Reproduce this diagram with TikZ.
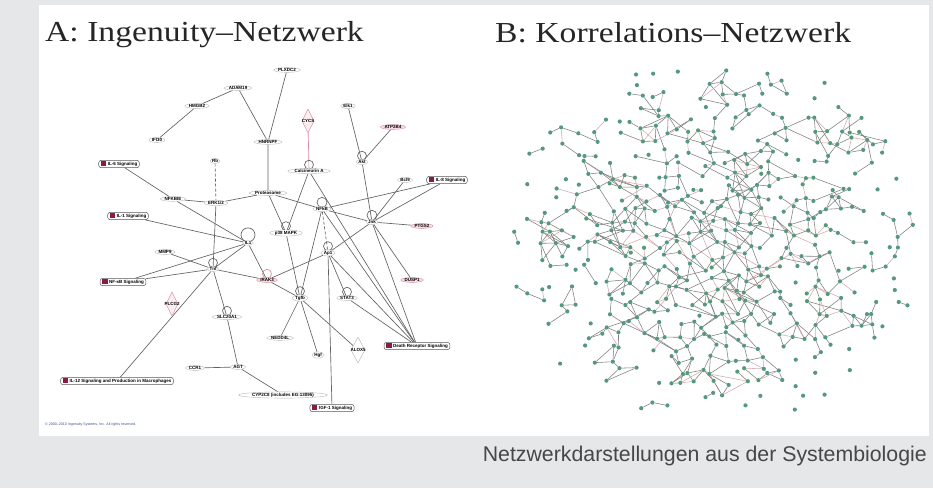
\documentclass[tikz,border=0pt]{standalone}
\usepackage{fontspec}
\setmainfont{Liberation Serif}
\newfontfamily\asans{Liberation Sans}
\usetikzlibrary{shapes.geometric}
\definecolor{bggray}{HTML}{E6E7E9}
\definecolor{pwred}{HTML}{8E1B3C}
\definecolor{pinkline}{HTML}{D98A9E}
\definecolor{pinkfill}{HTML}{F7DDE3}
\definecolor{dotgreen}{HTML}{55987D}
\definecolor{edgegray}{HTML}{7E7E7E}
\definecolor{edgepink}{HTML}{D4A8AF}
\definecolor{crblue}{HTML}{3A4FA0}
\pgfdeclarelayer{back}
\pgfdeclarelayer{edges}
\pgfsetlayers{back,edges,main}
\newcommand\pw[1]{{\color{pwred}\rule[-0.4pt]{5.5pt}{4.6pt}}\hspace{1.6pt}#1}
\newcommand\myloop[2]{\draw[aedge] ([yshift=#2*0.8]#1.north) circle (#2);}
\newcommand\bedge[3]{%
  \ifcsname bx#1x#2\endcsname
    \pgfmathtruncatemacro\bok{rnd<#3}%
    \ifnum\bok=1
      \pgfmathtruncatemacro\bpk{rnd<0.18}%
      \ifnum\bpk=1
        \draw[bline,draw=edgepink] (b\i x\j) -- (b#1x#2);
      \else
        \draw[bline] (b\i x\j) -- (b#1x#2);
      \fi
    \fi
  \fi}
\tikzset{
  lab/.style={font=\asans\bfseries\fontsize{4.5}{5}\selectfont},
  gnode/.style={lab, ellipse, draw=gray!55, fill=white, inner xsep=0.5pt, inner ysep=0.1pt},
  pnode/.style={lab, ellipse, draw=pinkline, fill=pinkfill, inner xsep=0.5pt, inner ysep=0.1pt},
  plab/.style={lab, inner sep=0.3pt},
  pdshape/.style={diamond, draw=pinkline, fill=pinkfill!50, minimum width=12pt, minimum height=24pt, inner sep=0pt},
  gdshape/.style={diamond, draw=gray!60, fill=white, minimum width=14pt, minimum height=26pt, inner sep=0pt},
  pbox/.style={lab, rectangle, rounded corners=2.5pt, draw=black!65, fill=white, inner xsep=2pt, inner ysep=1.1pt, line width=0.5pt},
  aedge/.style={draw=black!62, line width=0.65pt},
  bdot/.style={circle, fill=dotgreen, inner sep=0pt, minimum size=4.2pt},
  bline/.style={draw=edgegray, line width=0.55pt},
}
\begin{document}
\begin{tikzpicture}[x=1pt,y=-1pt]
\useasboundingbox (0,0) rectangle (933,488);
\begin{pgfonlayer}{back}
\fill[bggray] (0,0) rectangle (933,488);
\fill[white] (39,5) rectangle (929,436);
\end{pgfonlayer}

% titles and caption
\node[anchor=base west, inner sep=0pt, text=black!85] (ta) at (45,41) {\fontsize{29}{30}\selectfont\scalebox{1.16}[1]{A: Ingenuity–Netzwerk}};
\node[anchor=base west, inner sep=0pt, text=black!85] (tb) at (495,42) {\fontsize{29}{30}\selectfont\scalebox{1.16}[1]{B: Korrelations–Netzwerk}};
\node[anchor=base east, inner sep=0pt, text=black!72] (cap) at (927,461) {\asans\fontsize{21.3}{22}\selectfont Netzwerkdarstellungen aus der Systembiologie};

% ---------------- Network A ----------------
\node[gnode] (pld) at (287,70) {PLXDC2};
\node[gnode] (adi) at (238,88) {ADAM19};
\node[gnode] (hmg) at (197,106) {HMGB2};
\node[gnode] (ptr) at (157,140) {IFI30};
\node[gnode] (hnr) at (268,142) {HNRNPF};
\node[pdshape] (cycd) at (308,121) {};
\node[plab] (cyc) at (308,121) {CYCS};
\node[gnode] (elv) at (348,106) {Elk1};
\node[pnode] (htr) at (393,127) {ATP2B4};
\node[gnode] (akt) at (362,162) {Akt};
\node[gnode] (cal) at (309,171) {Calcineurin A};
\node[gnode] (rb) at (215,161) {Rb};
\node[pbox] (il6) at (119,164) {\pw{IL-6 Signaling}};
\node[pbox] (il8) at (447,180) {\pw{IL-8 Signaling}};
\node[gnode] (bcl) at (405,180) {Bcl9};
\node[gnode] (prot) at (268,193) {Proteasome};
\node[gnode] (nfi) at (173,199) {NFKBIE};
\node[gnode] (erk) at (216,203) {ERK1/2};
\node[gnode] (nfkb) at (322,209) {NFkB};
\node[gnode] (jnk) at (372,222) {Jnk};
\node[pnode] (ptg) at (422,226) {PTGS2};
\node[pbox] (il1) at (128,216) {\pw{IL-1 Signaling}};
\node[gnode] (p38) at (286,233) {p38 MAPK};
\node[gnode] (il1n) at (248,243) {IL1};
\node[gnode] (ap1) at (328,253) {Ap1};
\node[gnode] (mmp) at (165,252) {MMP9};
\node[gnode] (tnf) at (213,269) {Tnf};
\node[pbox] (nfk) at (123,282) {\pw{NF-κB Signaling}};
\node[pdshape] (plcd) at (172,304) {};
\node[plab] (plc) at (172,304) {PLCG2};
\node[pnode] (irk) at (267,280) {IRAK3};
\node[gnode] (tgf) at (300,298) {Tgfb};
\node[gnode] (sta) at (347,298) {STAT3};
\node[pnode] (dus) at (412,280) {DUSP1};
\node[gnode] (slc) at (227,317) {SLC20A1};
\node[gnode] (ned) at (280,338) {NEDD4L};
\node[gnode] (hgf) at (318,355) {Hgf};
\node[gdshape] (alxd) at (358,350) {};
\node[plab] (alx) at (358,350) {ALOX5};
\node[pbox] (dth) at (417,346) {\pw{Death Receptor Signaling}};
\node[gnode] (ccr) at (195,368) {CCR1};
\node[gnode] (agt) at (238,367) {AGT};
\node[pbox] (il12) at (117,381) {\pw{IL-12 Signaling and Production in Macrophages}};
\node[gnode] (cyp) at (283,395) {CYP2C8 (includes EG:13095)};
\node[pbox] (igf) at (332,408) {\pw{IGF-1 Signaling}};
\node[anchor=west, inner sep=0pt, text=crblue] (cr) at (45,425) {\asans\fontsize{3.6}{4}\selectfont © 2000–2010 Ingenuity Systems, Inc. All rights reserved.};

\begin{pgfonlayer}{edges}
\draw[aedge] (ptr) -- (hmg) -- (adi) -- (hnr);
\draw[aedge] (pld) -- (hnr) -- (prot);
\draw[aedge,draw=pinkline] (cycd) -- (cal);
\draw[aedge] (elv) -- (akt);
\draw[aedge] (htr) -- (akt);
\draw[aedge] (akt) -- (jnk);
\draw[aedge] (il6) -- (nfi) -- (il1n);
\draw[aedge] (nfi) -- (erk) -- (prot);
\draw[aedge,densely dashed] (rb) -- (erk);
\draw[aedge] (erk) -- (tnf);
\draw[aedge] (prot) -- (nfkb) -- (jnk);
\draw[aedge] (prot) -- (p38);
\draw[aedge] (cal) -- (p38);
\draw[aedge] (cal) -- (dth);
\draw[aedge] (nfkb) -- (il8);
\draw[aedge] (il8) -- (jnk);
\draw[aedge] (bcl) -- (jnk);
\draw[aedge] (ptg) -- (jnk);
\draw[aedge] (jnk) -- (dus);
\draw[aedge] (jnk) -- (ap1);
\draw[aedge] (jnk) -- (dth);
\draw[aedge] (il1) -- (il1n);
\draw[aedge] (nfk) -- (il1n);
\draw[aedge] (nfk) -- (tnf);
\draw[aedge] (mmp) -- (tnf);
\draw[aedge] (il12) -- (tnf);
\draw[aedge] (il1n) -- (tnf);
\draw[aedge] (il1n) -- (irk);
\draw[aedge] (tnf) -- (irk);
\draw[aedge] (tnf) -- (slc) -- (agt);
\draw[aedge] (ccr) -- (agt) -- (cyp);
\draw[aedge] (irk) -- (tgf);
\draw[aedge] (irk) -- (ap1);
\draw[aedge] (p38) -- (tgf);
\draw[aedge] (nfkb) -- (tgf);
\draw[aedge] (tgf) -- (ned);
\draw[aedge] (tgf) -- (hgf);
\draw[aedge] (tgf) -- (alxd);
\draw[aedge,densely dashed] (nfkb) -- (ap1);
\draw[aedge] (ap1) -- (igf);
\draw[aedge] (ap1) -- (sta);
\draw[aedge] (ap1) -- (dth);
\draw[aedge] (sta) -- (dth);
\draw[aedge] (nfkb) -- (dth);
\myloop{akt}{4.5pt}
\myloop{cal}{4.5pt}
\myloop{nfkb}{5pt}
\myloop{jnk}{5pt}
\myloop{p38}{4.5pt}
\myloop{il1n}{7pt}
\myloop{ap1}{4.5pt}
\myloop{tnf}{4.5pt}
\myloop{tgf}{4.5pt}
\myloop{sta}{4.5pt}
\myloop{slc}{4.5pt}
\draw[aedge,draw=pinkline] ([yshift=3.6pt]irk.north) circle (4.5pt);
\end{pgfonlayer}

% ---------------- Network B ----------------
\pgfmathsetseed{7319}
\foreach \i in {0,...,34}{
  \foreach \j in {0,...,29}{
    \pgfmathsetmacro{\cx}{518+\i*11.5+(rnd-0.5)*8.5}
    \pgfmathsetmacro{\cy}{72+\j*11.5+(rnd-0.5)*8.5}
    \pgfmathsetmacro{\ux}{(\cx-713)/195}
    \pgfmathsetmacro{\uy}{(\cy-242)/170}
    \pgfmathsetmacro{\dd}{\ux*\ux+\uy*\uy}
    \pgfmathtruncatemacro{\keep}{(\dd<1.22)*(rnd<(0.9-0.6*\dd))}
    \ifnum\keep=1
      \node[bdot] (b\i x\j) at (\cx,\cy) {};
      \expandafter\xdef\csname bx\i x\j\endcsname{1}%
    \fi
  }
}
\begin{pgfonlayer}{edges}
\foreach \i in {0,...,34}{
  \foreach \j in {0,...,29}{
    \ifcsname bx\i x\j\endcsname
      \pgfmathtruncatemacro{\ip}{\i+1}%
      \pgfmathtruncatemacro{\im}{\i-1}%
      \pgfmathtruncatemacro{\jp}{\j+1}%
      \pgfmathtruncatemacro{\ipp}{\i+2}%
      \pgfmathtruncatemacro{\imm}{\i-2}%
      \pgfmathtruncatemacro{\ippp}{\i+3}%
      \pgfmathtruncatemacro{\jpp}{\j+2}%
      \bedge{\ip}{\j}{0.66}%
      \bedge{\i}{\jp}{0.6}%
      \bedge{\ip}{\jp}{0.32}%
      \bedge{\im}{\jp}{0.32}%
      \bedge{\ipp}{\jp}{0.18}%
      \bedge{\imm}{\jp}{0.14}%
      \bedge{\ip}{\jpp}{0.14}%
      \bedge{\ippp}{\jp}{0.06}%
    \fi
  }
}
\end{pgfonlayer}
\end{tikzpicture}
\end{document}
